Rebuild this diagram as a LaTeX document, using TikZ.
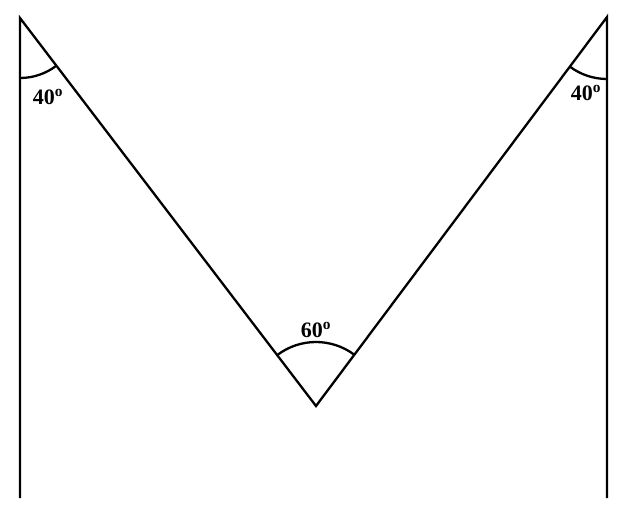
\documentclass[tikz,border=0pt]{standalone}
\usepackage{fontspec}
\setmainfont{Liberation Serif}
\usetikzlibrary{angles}
\begin{document}
\begin{tikzpicture}[x=1pt,y=1pt,
  ln/.style={line width=2.3pt},
  arcst/.style={draw,line width=2.3pt},
  lbl/.style={font=\fontsize{22}{22}\selectfont\bfseries,inner sep=0pt}]
\useasboundingbox (0,0) rectangle (631,515);
\coordinate (A) at (20,497);
\coordinate (B) at (316,109);
\coordinate (C) at (607,498);
\coordinate (D) at (20,17);
\coordinate (E) at (607,17);
\draw[ln,line join=miter] (D) -- (A) -- (B) -- (C) -- (E);
\pic[arcst,angle radius=60pt] {angle = D--A--B};
\pic[arcst,angle radius=62pt] {angle = B--C--E};
\pic[arcst,angle radius=64pt] {angle = C--B--A};
\node[lbl] (l1) at (48,418) {40\textsuperscript{o}};
\node[lbl] (l2) at (586,422) {40\textsuperscript{o}};
\node[lbl] (l3) at (316,185) {60\textsuperscript{o}};
\end{tikzpicture}
\end{document}
